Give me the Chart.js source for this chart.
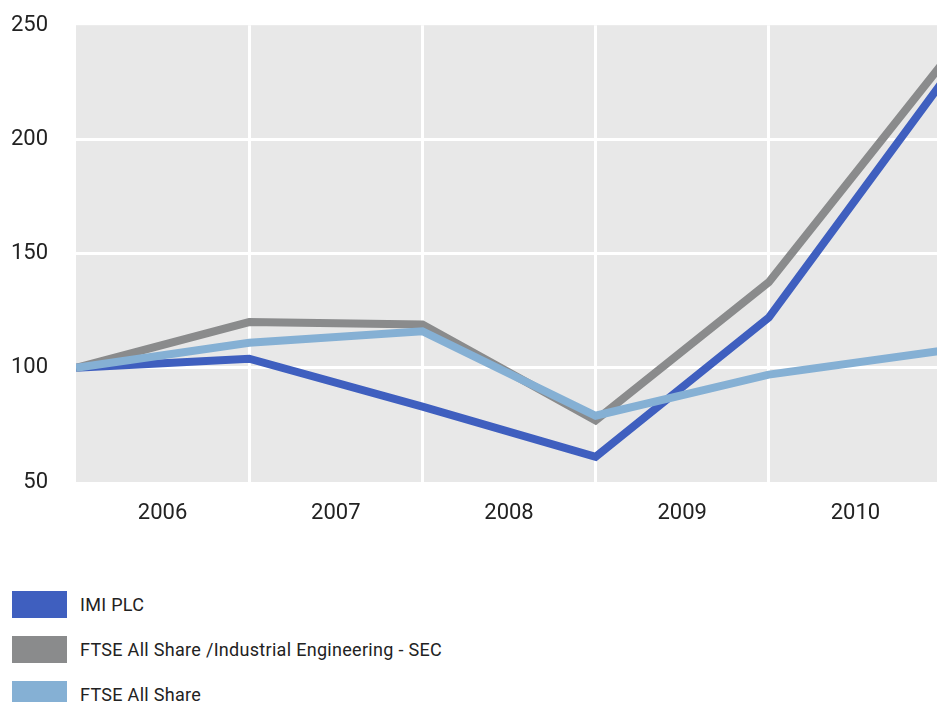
<!DOCTYPE html>
<html>
<head>
<meta charset="utf-8">
<script src="https://cdn.jsdelivr.net/npm/chart.js@4.4.1/dist/chart.umd.min.js"></script>
<style>
  html, body { margin: 0; padding: 0; background: #ffffff; overflow: hidden; }
  #wrap { position: relative; width: 937px; height: 702px; overflow: hidden; }
  #box { position: absolute; left: 0; top: -16px; width: 960px; height: 561px; }
  #legend { position: absolute; left: 12px; top: 591px; font-family: Roboto, "DejaVu Sans", sans-serif; font-size: 18px; letter-spacing: 0.3px; color: #222; }
  .item { position: relative; height: 45px; }
  .sw { position: absolute; left: 0; top: 0; width: 55px; height: 27px; }
  .lb { position: absolute; left: 68px; top: 0; line-height: 27px; white-space: nowrap; }
</style>
</head>
<body>
<div id="wrap">
  <div id="box"><canvas id="c" width="960" height="561"></canvas></div>
  <div id="legend"></div>
</div>
<script>
// Category (period) labels shown between the data points
const periodLabels = ['2006', '2007', '2008', '2009', '2010'];
// Y-axis tick values
const yTicks = [50, 100, 150, 200, 250];
// Series values (rebased index, one value per year boundary)
const seriesNames = ['IMI PLC', 'FTSE All Share /Industrial Engineering - SEC', 'FTSE All Share'];
const imiPlc = [100, 104, 83, 61, 122, 225];
const ftseIndustrialEng = [100, 120, 119, 77, 137.5, 233];
const ftseAllShare = [100, 111, 116, 79, 97, 107.5];
const seriesColors = ['#3f5fbf', '#8a8b8c', '#85b0d4'];

const toPoints = arr => arr.map((v, i) => ({ x: i, y: v }));

const bgPlugin = {
  id: 'plotBg',
  beforeDraw(chart) {
    const a = chart.chartArea, ctx = chart.ctx;
    ctx.save();
    ctx.fillStyle = '#e8e8e8';
    ctx.fillRect(a.left, a.top, a.right - a.left, a.bottom - a.top);
    ctx.restore();
  }
};

const FONT = 'Roboto, "DejaVu Sans", sans-serif';

new Chart(document.getElementById('c'), {
  type: 'line',
  data: {
    datasets: [
      { label: seriesNames[0], data: toPoints(imiPlc), borderColor: seriesColors[0], order: 3 },
      { label: seriesNames[1], data: toPoints(ftseIndustrialEng), borderColor: seriesColors[1], order: 2 },
      { label: seriesNames[2], data: toPoints(ftseAllShare), borderColor: seriesColors[2], order: 1 }
    ].map(d => Object.assign(d, { borderWidth: 8, pointRadius: 0, pointHoverRadius: 0, tension: 0, fill: false, borderJoinStyle: 'miter', borderCapStyle: 'butt' }))
  },
  options: {
    responsive: false,
    animation: false,
    events: [],
    layout: { padding: { top: 7, right: 2, left: 0, bottom: 0 } },
    plugins: { legend: { display: false }, tooltip: { enabled: false } },
    scales: {
      x: {
        type: 'linear',
        min: 0,
        max: periodLabels.length,
        afterBuildTicks(scale) {
          const t = [];
          for (let i = 0; i <= periodLabels.length; i++) {
            t.push({ value: i });
            if (i < periodLabels.length) t.push({ value: i + 0.5 });
          }
          scale.ticks = t;
        },
        afterFit(scale) { scale.height = 63; },
        border: { display: false },
        grid: {
          drawTicks: false,
          lineWidth: 3,
          color: ctx => {
            const v = ctx.tick && ctx.tick.value;
            return (Number.isInteger(v) && v > 0 && v < periodLabels.length) ? '#ffffff' : 'rgba(0,0,0,0)';
          }
        },
        ticks: {
          autoSkip: false,
          maxRotation: 0,
          padding: 18,
          color: '#222',
          font: { family: FONT, size: 22 },
          callback: v => (Number.isInteger(v) ? '' : periodLabels[Math.floor(v)])
        }
      },
      y: {
        min: yTicks[0],
        max: yTicks[yTicks.length - 1],
        afterBuildTicks(scale) { scale.ticks = yTicks.map(v => ({ value: v })); },
        afterFit(scale) { scale.width = 76; },
        border: { display: false },
        grid: {
          drawTicks: false,
          lineWidth: 3,
          color: ctx => {
            const v = ctx.tick && ctx.tick.value;
            return (v > yTicks[0] && v < yTicks[yTicks.length - 1]) ? '#ffffff' : 'rgba(0,0,0,0)';
          }
        },
        ticks: {
          padding: 28,
          color: '#222',
          font: { family: FONT, size: 22 }
        }
      }
    }
  },
  plugins: [bgPlugin]
});

// HTML legend built from the same series arrays
const lg = document.getElementById('legend');
seriesNames.forEach((n, i) => {
  const it = document.createElement('div');
  it.className = 'item';
  it.innerHTML = '<div class="sw" style="background:' + seriesColors[i] + '"></div><div class="lb"></div>';
  it.querySelector('.lb').textContent = n;
  lg.appendChild(it);
});
</script>
</body>
</html>
